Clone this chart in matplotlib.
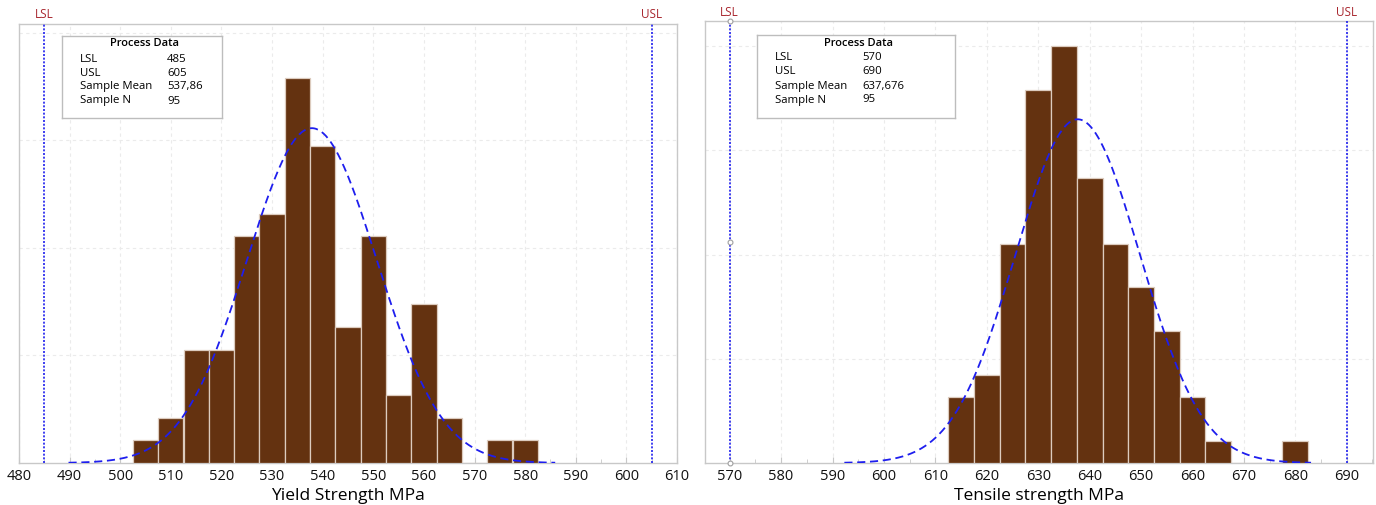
import numpy as np
import matplotlib
matplotlib.use("Agg")
import matplotlib.pyplot as plt
from matplotlib.ticker import MultipleLocator

plt.rcParams['font.family'] = ['Open Sans', 'DejaVu Sans']

# ---- data ----
ys_centers = [505, 510, 515, 520, 525, 530, 535, 540, 545, 550, 555, 560, 565, 570, 575, 580]
ys_counts = [1, 2, 5, 5, 10, 11, 17, 14, 6, 10, 3, 7, 2, 0, 1, 1]
ys_lsl, ys_usl, ys_mean, ys_n, ys_sigma = 485, 605, 537.86, 95, 12.82
ys_mean_label = "537,86"

ts_centers = [615, 620, 625, 630, 635, 640, 645, 650, 655, 660, 665, 670, 675, 680]
ts_counts = [3, 4, 10, 17, 19, 13, 10, 8, 6, 3, 1, 0, 0, 1]
ts_lsl, ts_usl, ts_mean, ts_n, ts_sigma = 570, 690, 637.676, 95, 12.10
ts_mean_label = "637,676"

bin_w = 5
W, H = 1376, 505
fig = plt.figure(figsize=(W / 100, H / 100), dpi=100)
fig.patch.set_facecolor('white')

BAR = '#643210'
EDGE = '#DCCBBE'
BLUE = '#1E1EEE'
RED = '#A8262E'
GRID = '#EBEBEB'
SPINE = '#C8C8C8'


def panel(rect, centers, counts, lsl, usl, mean, n, sigma, mean_label,
          xlim, ymax, xticks, xlabel, box_rect, handles=False):
    ax = fig.add_axes(rect)
    dens = [c / (n * bin_w) for c in counts]
    ax.bar(centers, dens, width=bin_w, color=BAR, edgecolor=EDGE,
           linewidth=0.9, zorder=3)
    xs = np.linspace(mean - 3.75 * sigma, mean + 3.75 * sigma, 400)
    pdf = np.exp(-0.5 * ((xs - mean) / sigma) ** 2) / (sigma * np.sqrt(2 * np.pi))
    ax.plot(xs, pdf, color=BLUE, lw=1.3, ls=(0, (4.5, 2.6)), zorder=4)
    for v, lab in ((lsl, 'LSL'), (usl, 'USL')):
        ax.axvline(v, color=BLUE, lw=1.2, ls=(0, (1.2, 1.0)), zorder=4)
        ax.text(v, 1.0 + 9 / (rect[3] * H), lab, transform=ax.get_xaxis_transform(),
                ha='center', va='center', color=RED, fontsize=8.5)
    if handles:
        ax.plot([lsl] * 3, [0, 0.5, 1], transform=ax.get_xaxis_transform(),
                ls='none', marker='o', ms=3.5, mfc='white', mec='#A0A0A0',
                mew=0.8, zorder=6, clip_on=False)
    ax.set_xlim(*xlim)
    ax.set_ylim(0, ymax)
    ax.set_xticks(xticks)
    ax.xaxis.set_minor_locator(MultipleLocator(5))
    ax.set_yticks([0.01, 0.02, 0.03, 0.04])
    ax.tick_params(axis='y', left=False, labelleft=False)
    ax.tick_params(axis='x', which='major', direction='in', length=4,
                   color=SPINE, labelsize=10.5, labelcolor='#111111', pad=4)
    ax.tick_params(axis='x', which='minor', direction='in', length=3, color=SPINE)
    ax.grid(True, color=GRID, lw=0.8, ls=(0, (3, 3)), zorder=0)
    ax.set_axisbelow(True)
    for s in ax.spines.values():
        s.set_color(SPINE)
        s.set_linewidth(1.0)
    ax.set_xlabel(xlabel, fontsize=12.5, color='#000000', labelpad=3)

    # Process data box
    bx, by, bw, bh = box_rect
    box = fig.add_axes([bx / W, 1 - (by + bh) / H, bw / W, bh / H])
    box.set_xlim(0, bw)
    box.set_ylim(bh, 0)
    box.set_xticks([])
    box.set_yticks([])
    for s in box.spines.values():
        s.set_color('#BDBDBD')
        s.set_linewidth(1.0)
    box.set_zorder(10)
    box.text(bw / 2 + 2, 8, 'Process Data', ha='center', va='center',
             fontsize=8, color='#000000', fontweight='semibold')
    rows = [('LSL', str(lsl)), ('USL', str(usl)),
            ('Sample Mean', mean_label), ('Sample N', str(n))]
    for i, (k, v) in enumerate(rows):
        yy = 23 + i * 14
        box.text(18, yy, k, ha='left', va='center', fontsize=8.2, color='#000000')
        box.text(105, yy, v, ha='left', va='center', fontsize=8.2, color='#000000')
    return ax


# left panel
panel([19 / W, (H - 463) / H, 658 / W, 439 / H],
      ys_centers, ys_counts, ys_lsl, ys_usl, ys_mean, ys_n, ys_sigma, ys_mean_label,
      (480, 610), 0.0408, list(range(480, 611, 10)), 'Yield Strength MPa',
      (62, 36, 160, 82))

# right panel
panel([705 / W, (H - 463) / H, 668 / W, 442 / H],
      ts_centers, ts_counts, ts_lsl, ts_usl, ts_mean, ts_n, ts_sigma, ts_mean_label,
      (565.2, 695.1), 0.0424, list(range(570, 691, 10)), 'Tensile strength MPa',
      (757, 35, 198, 83), handles=True)

fig.savefig('out.png', dpi=100, facecolor='white')
